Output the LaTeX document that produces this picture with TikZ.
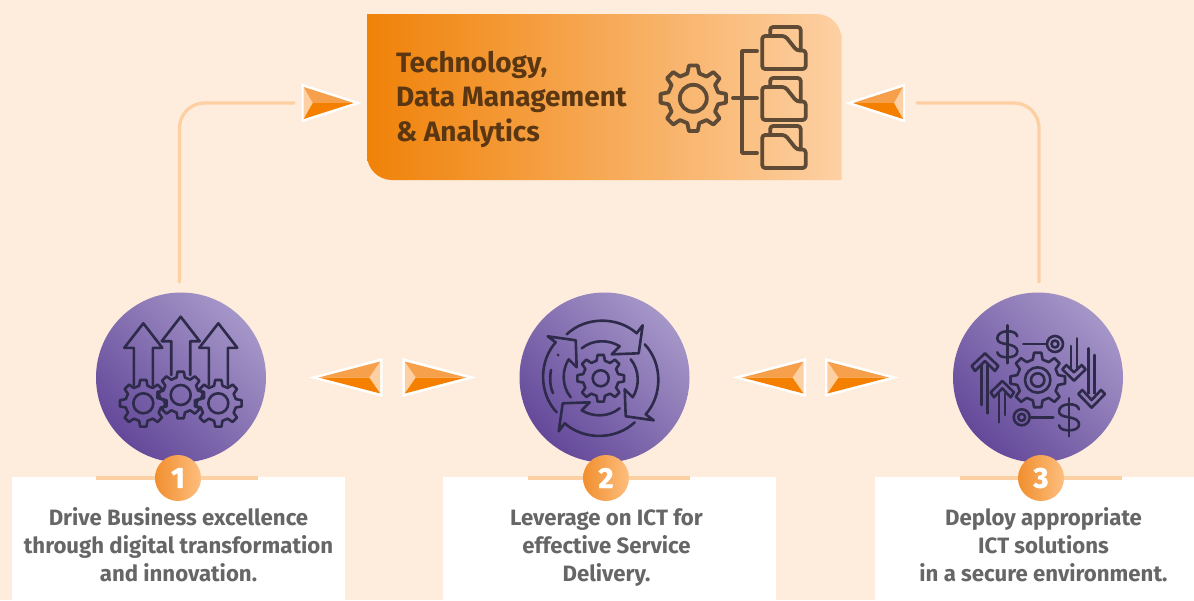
\documentclass[tikz,border=0pt]{standalone}
\usepackage{fontspec}
\setmainfont{Fira Sans}
\newfontfamily\numfont[BoldFeatures={FakeBold=1.6}]{Fira Sans}
\definecolor{paper}{HTML}{FEECDD}
\definecolor{peach}{HTML}{FDD0A3}
\definecolor{amber}{HTML}{F58000}
\definecolor{amberdull}{HTML}{F08208}
\definecolor{amberlight}{HTML}{F7A04C}
\definecolor{inkbrown}{HTML}{5A3712}
\definecolor{iconbrown}{HTML}{5F4A35}
\definecolor{inkpurple}{HTML}{2E2A4A}
\definecolor{textgray}{HTML}{666666}
\definecolor{discdark}{HTML}{64499A}
\definecolor{disclight}{HTML}{A596C8}
\definecolor{badgedark}{HTML}{F18F2E}
\definecolor{badgelight}{HTML}{FDBE7E}
\tikzset{every node/.style={align=center}}
\tikzset{link/.style={line width=3.3pt, peach, line cap=round}}
\tikzset{rule/.style={line width=3.3pt, peach}}
\tikzset{topicon/.style={line width=3.8pt, iconbrown, line join=round, line cap=round}}
\tikzset{icon/.style={line width=2.6pt, inkpurple, line join=round, line cap=round}}
\tikzset{disc/.style={circle, inner sep=0pt, minimum size=170pt, left color=disclight, right color=discdark, shading angle=-45}}
\tikzset{badge/.style={circle, inner sep=0pt, minimum size=46pt, left color=badgedark, right color=badgelight, text=white, font=\fontsize{29}{29}\selectfont\numfont\bfseries}}
\tikzset{caption/.style={text=textgray, font=\fontsize{22.2}{28}\selectfont\bfseries}}
\newcommand{\cgear}[6]{
  \pgfmathsetmacro{\gearpitch}{360/#5}
  \begin{scope}[shift={(#1,#2)}]
    \draw[icon, #6] ({-0.3*\gearpitch}:#4) \foreach \k in {1,...,#5}
      { -- ({(\k-1.3)*\gearpitch}:#4) -- ({(\k-1.17)*\gearpitch}:#3) -- ({(\k-0.83)*\gearpitch}:#3) -- ({(\k-0.7)*\gearpitch}:#4) } -- cycle;
  \end{scope}}
\newcommand{\cpointer}[3]{
  \begin{scope}[shift={(#1,#2)}, xscale=#3]
    \fill[white] (0,-19.5) -- (60,0) -- (0,19.5) -- cycle;
    \fill[peach] (2,-16) -- (11,0) -- (2,16) -- cycle;
    \fill[amberlight] (2,-16) -- (52,0) -- (11,0) -- cycle;
    \fill[amber] (2,16) -- (52,0) -- (11,0) -- cycle;
  \end{scope}}
\newcommand{\cfolder}[2]{
  \begin{scope}[shift={(#1,#2)}]
    \draw[topicon, rounded corners=3pt] (0,9) -- (23,9) -- (34.5,23.5) -- (43.5,23.5) -- (43.5,42) -- (0,42) -- cycle;
    \draw[topicon, rounded corners=3pt] (8,9) -- (8,0) -- (38.5,0) -- (38.5,23.5);
  \end{scope}}
\newcommand{\cupper}[3]{
  \draw[icon] (#1-9.5,#3) -- (#1-9.5,#2+24.5) -- (#1-19,#2+24.5) -- (#1,#2) -- (#1+19,#2+24.5) -- (#1+9.5,#2+24.5) -- (#1+9.5,#3);}
\newcommand{\cdollar}[2]{
  \begin{scope}[shift={(#1,#2)}]
    \draw[icon] (0,-19) -- (0,19);
    \draw[icon] (10,-8) .. controls (9,-12) and (5,-13) .. (0,-13) .. controls (-6,-13) and (-10,-10) .. (-10,-6) .. controls (-10,-2) and (-6,-1) .. (0,0) .. controls (6,1) and (10,3) .. (10,7) .. controls (10,11) and (6,13) .. (0,13) .. controls (-5,13) and (-9,12) .. (-10,8);
  \end{scope}}

\begin{document}
\begin{tikzpicture}[x=1pt, y=-1pt]
    \useasboundingbox (0,0) rectangle (1194,600);
    \fill[paper] (0,0) rectangle (1194,600);

    % Coordinates
    \coordinate (L0) at (179.5,282);
    \coordinate (L1) at (179.5,103);
    \coordinate (L2) at (294,103);
    \coordinate (R0) at (1039,282);
    \coordinate (R1) at (1039,103);
    \coordinate (R2) at (917,103);

    % Top box
    \shade[left color=amberdull, right color=peach] (367,14) {[rounded corners=25pt] -- (841.5,14) -- (841.5,60)} -- (841.5,180) {[rounded corners=25pt] -- (367,180) -- (367,130)} -- cycle;
    \node[anchor=west, align=left, text=inkbrown, font=\fontsize{28}{34.5}\selectfont\bfseries] (title) at (392.5,99) {Technology,\\Data Management\\\& Analytics};

    %% Top icon
    \cgear{693.3}{98.3}{33}{25.5}{8}{topicon}
    \draw[topicon] (693.3,98.3) circle[radius=13.5];
    \draw[topicon] (757,51) -- (742,51) -- (742,153) -- (757,153);
    \draw[topicon] (733,98) -- (757,98);
    \cfolder{762.2}{27}
    \cfolder{762.2}{78}
    \cfolder{762.2}{126}

    % Links
    \draw[link, rounded corners=25pt] (L0) -- (L1) -- (L2);
    \draw[link, rounded corners=25pt] (R0) -- (R1) -- (R2);

    % Pointers
    \cpointer{301.7}{103}{1}
    \cpointer{905}{103}{-1}
    \cpointer{382.7}{377.5}{-1.23}
    \cpointer{402.3}{377.5}{1.23}
    \cpointer{806}{377.5}{-1.23}
    \cpointer{825}{377.5}{1.23}

    % White panels
    \fill[white] (12,477) rectangle (345,600);
    \fill[white] (443,477) rectangle (776,600);
    \fill[white] (875,477) rectangle (1194,600);
    \draw[rule] (96,478) -- (258,478);
    \draw[rule] (528,478) -- (690,478);
    \draw[rule] (960,478) -- (1122,478);

    % Discs
    \node[disc] (disca) at (181,377.5) {};
    \node[disc] (discb) at (604.5,377.5) {};
    \node[disc] (discc) at (1038,377.5) {};

    %% Icon 1
    \cupper{180.7}{316.7}{375}
    \cupper{143.3}{323.3}{385}
    \cupper{218.3}{323.3}{385}
    \cgear{143.3}{403.3}{23.5}{18}{8}{}
    \cgear{180.7}{395}{23.5}{18}{8}{}
    \cgear{218.3}{403.3}{23.5}{18}{8}{}
    \draw[icon] (143.3,403.3) circle[radius=10];
    \draw[icon] (180.7,395) circle[radius=10];
    \draw[icon] (218.3,403.3) circle[radius=10];

    %% Icon 2
    \cgear{600.7}{378.3}{23.5}{18}{8}{}
    \draw[icon] (600.7,378.3) circle[radius=8];
    \foreach \a in {0,90,180,270}
    {
      \begin{scope}[shift={(600.7,378.3)}, rotate=\a]
        \draw[icon] (-34,-44) .. controls (-15,-62) and (17,-62) .. (36,-45) -- (42,-53) -- (38,-25) -- (11,-24) -- (19,-32) .. controls (8,-39) and (-8,-39) .. (-19,-30);
      \end{scope}
    }
    \draw[icon] (551,370) .. controls (549.5,378) and (550,387) .. (553,393);
    \fill[inkpurple] (558,355) circle[radius=1.5];

    %% Icon 3
    \cgear{1037.7}{380}{27.5}{21}{8}{}
    \draw[icon] (1037.7,380) circle[radius=12.7];
    \draw[icon] (1037.7,380) circle[radius=6.7];
    \cdollar{1007.3}{344.3}
    \cdollar{1069}{417.3}
    \draw[icon] (1023.3,344) -- (1046.7,344);
    \draw[icon] (1055,344) circle[radius=8];
    \draw[icon] (1055,344) circle[radius=3.5];
    \draw[icon] (1030,417.3) -- (1053.3,417.3);
    \draw[icon] (1021.7,417.3) circle[radius=8];
    \draw[icon] (1021.7,417.3) circle[radius=3.5];
    \begin{scope}[shift={(945,285)}, x=0.3333pt, y=-0.3333pt]
      \draw[icon] (80,243) -- (120,205) -- (160,243) -- (150,258) -- (120,228) -- (90,258) -- cycle;
      \draw[icon] (110,240) -- (110,360);
      \draw[icon] (128,240) -- (128,385);
      \draw[icon] (137,322) -- (172,288) -- (207,322) -- (197,337) -- (172,310) -- (147,337) -- cycle;
      \draw[icon] (162,325) -- (162,412);
      \draw[icon] (180,325) -- (180,390);
      \draw[icon] (352,253) -- (387,287) -- (422,253) -- (410,240) -- (387,262) -- (364,240) -- cycle;
      \draw[icon] (378,183) -- (378,250);
      \draw[icon] (396,160) -- (396,250);
      \draw[icon] (400,327) -- (440,368) -- (480,327) -- (468,315) -- (440,345) -- (412,315) -- cycle;
      \draw[icon] (430,190) -- (430,325);
      \draw[icon] (448,210) -- (448,325);
    \end{scope}

    % Badges
    \node[badge] (numa) at (178,478) {1};
    \node[badge] (numb) at (606,478) {2};
    \node[badge] (numc) at (1041,478) {3};

    % Captions
    \node[caption] (capa) at (178.5,545) {Drive Business excellence\\through digital transformation\\and innovation.};
    \node[caption] (capb) at (606.5,548) {Leverage on ICT for\\effective Service\\Delivery.};
    \node[caption] (capc) at (1043.5,545) {Deploy appropriate\\ICT solutions\\in a secure environment.};
\end{tikzpicture}
\end{document}
